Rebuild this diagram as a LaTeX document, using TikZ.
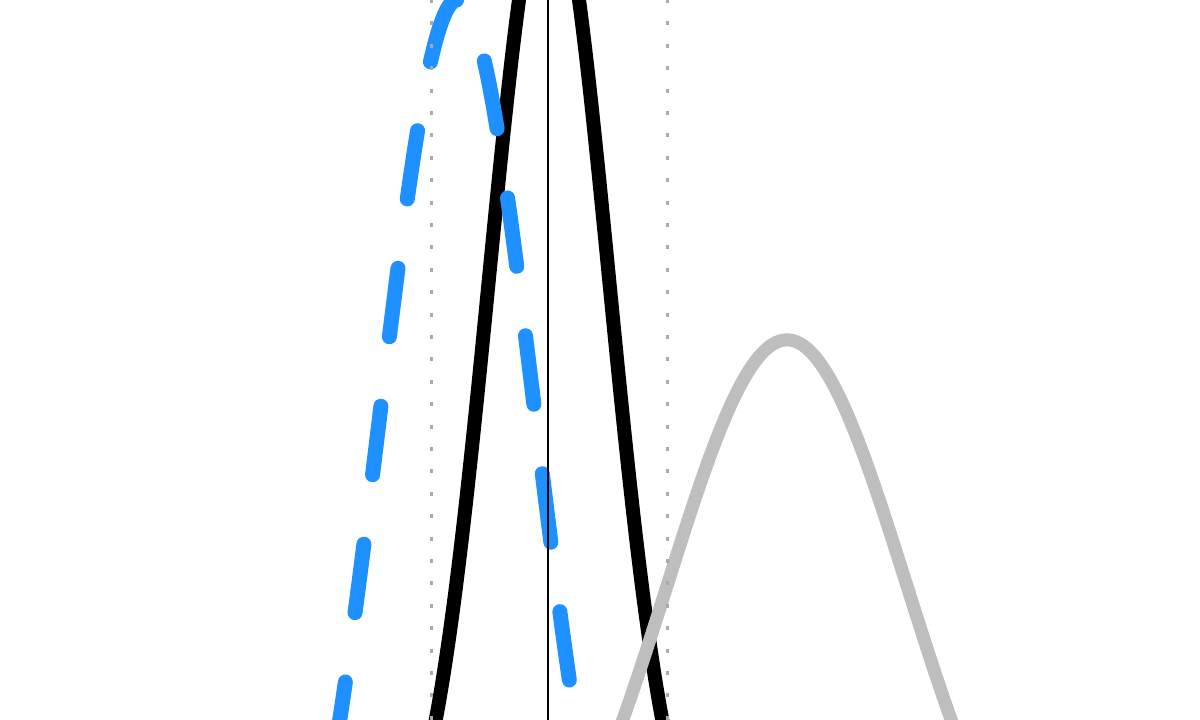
\documentclass[tikz,border=0pt]{standalone}
\usepackage{tikz}
\definecolor{bluecurve}{HTML}{1E90FF}
\definecolor{graycurve}{HTML}{BEBEBE}
\definecolor{dotgray}{HTML}{AAAAAA}
\tikzset{
  blackcurve/.style={line width=14pt, black, line join=round},
  bluedash/.style={line width=15pt, bluecurve, line cap=round, dash pattern=on 69pt off 70pt},
  graystroke/.style={line width=13pt, graycurve},
  dotline/.style={line width=3pt, dotgray, dash pattern=on 4pt off 18.4pt},
  vline/.style={line width=2pt, black}
}
\begin{document}
\begin{tikzpicture}[x=1pt,y=-1pt]
\useasboundingbox (0,0) rectangle (1200,720);
\fill[white] (0,0) rectangle (1200,720);
\clip (0,0) rectangle (1200,720);
% black narrow curve
\draw[blackcurve] plot[smooth, domain=420:680, samples=120] (\x,{889.6-1008*exp(-((\x-549)/84.85)^2)});
% blue dashed curve, split at a dash end
\draw[bluedash, dash phase=69pt] plot[smooth, domain=398:640, samples=140] (\x,{1050-1050*exp(-((\x-457.5)/109.5)^2)});
\draw[bluedash] plot[smooth, domain=398:300, samples=60] (\x,{1050-1050*exp(-((\x-457.5)/109.5)^2)});
% gray curve
\draw[graystroke] plot[smooth, domain=580:1000, samples=140] (\x,{965-625*exp(-((\x-787)/169.7)^2)});
% dotted guides
\coordinate (d1t) at (431,-1);
\coordinate (d1b) at (431,730);
\coordinate (d2t) at (667,-1);
\coordinate (d2b) at (667,730);
\draw[dotline] (d1t) -- (d1b);
\draw[dotline] (d2t) -- (d2b);
% vertical line
\coordinate (vt) at (548,-5);
\coordinate (vb) at (548,730);
\draw[vline] (vt) -- (vb);
\end{tikzpicture}
\end{document}
